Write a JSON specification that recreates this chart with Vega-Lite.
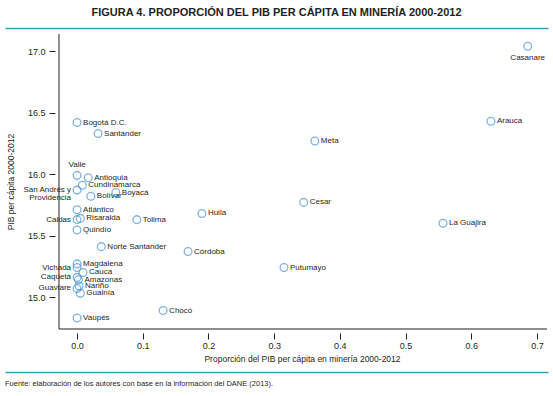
{
  "$schema": "https://vega.github.io/schema/vega-lite/v6.json",
  "background": "white",
  "padding": {"left": 5, "right": 5, "top": 7, "bottom": 2},
  "columns": 1,
  "spacing": 0,
  "config": {
    "view": {"stroke": null},
    "font": "Liberation Sans",
    "axis": {"labelFont": "Liberation Sans", "titleFont": "Liberation Sans", "labelColor": "#231f20", "titleColor": "#231f20", "tickColor": "#231f20", "titleFontWeight": "normal"}
  },
  "concat": [
    {
      "width": 543,
      "height": 4,
      "title": {"text": "FIGURA 4. PROPORCIÓN DEL PIB PER CÁPITA EN MINERÍA 2000-2012", "anchor": "middle", "frame": "group", "fontSize": 11, "font": "Liberation Sans", "fontWeight": "bold", "color": "#231f20", "offset": 9},
      "data": {"values": [{"v": 0}]},
      "mark": {"type": "point", "opacity": 0},
      "encoding": {
        "x": {"field": "v", "type": "quantitative", "axis": {"orient": "top", "domainColor": "#3a9dba", "domainWidth": 1.5, "ticks": false, "labels": false, "title": null, "grid": false}}
      }
    },
    {
      "width": 543,
      "height": 295,
      "data": {"values": [
        {"name": "Casanare", "label": "Casanare", "mineria": 0.686, "pib": 17.04},
        {"name": "Arauca", "label": "Arauca", "mineria": 0.630, "pib": 16.43},
        {"name": "Meta", "label": "Meta", "mineria": 0.362, "pib": 16.27},
        {"name": "Cesar", "label": "Cesar", "mineria": 0.345, "pib": 15.77},
        {"name": "La Guajira", "label": "La Guajira", "mineria": 0.557, "pib": 15.60},
        {"name": "Huila", "label": "Huila", "mineria": 0.190, "pib": 15.68},
        {"name": "Córdoba", "label": "Córdoba", "mineria": 0.169, "pib": 15.37},
        {"name": "Putumayo", "label": "Putumayo", "mineria": 0.315, "pib": 15.24},
        {"name": "Chocó", "label": "Chocó", "mineria": 0.131, "pib": 14.89},
        {"name": "Tolima", "label": "Tolima", "mineria": 0.091, "pib": 15.63},
        {"name": "Norte Santander", "label": "Norte Santander", "mineria": 0.037, "pib": 15.41},
        {"name": "Bogotá D.C.", "label": "Bogotá D.C.", "mineria": 0.0, "pib": 16.42},
        {"name": "Santander", "label": "Santander", "mineria": 0.032, "pib": 16.33},
        {"name": "Valle", "label": "Valle", "mineria": 0.0, "pib": 15.99},
        {"name": "Antioquia", "label": "Antioquia", "mineria": 0.017, "pib": 15.97},
        {"name": "Cundinamarca", "label": "Cundinamarca", "mineria": 0.008, "pib": 15.91},
        {"name": "San Andrés y Providencia", "label": "San Andrés y\nProvidencia", "mineria": 0.0, "pib": 15.87},
        {"name": "Boyacá", "label": "Boyacá", "mineria": 0.059, "pib": 15.85},
        {"name": "Bolívar", "label": "Bolívar", "mineria": 0.021, "pib": 15.82},
        {"name": "Atlántico", "label": "Atlántico", "mineria": 0.0, "pib": 15.71},
        {"name": "Caldas", "label": "Caldas", "mineria": 0.0, "pib": 15.63},
        {"name": "Risaralda", "label": "Risaralda", "mineria": 0.005, "pib": 15.64},
        {"name": "Quindío", "label": "Quindío", "mineria": 0.0, "pib": 15.545},
        {"name": "Magdalena", "label": "Magdalena", "mineria": 0.0, "pib": 15.27},
        {"name": "Vichada", "label": "Vichada", "mineria": 0.0, "pib": 15.24},
        {"name": "Cauca", "label": "Cauca", "mineria": 0.009, "pib": 15.20},
        {"name": "Caquetá", "label": "Caquetá", "mineria": 0.0, "pib": 15.16},
        {"name": "Amazonas", "label": "Amazonas", "mineria": 0.002, "pib": 15.14},
        {"name": "Nariño", "label": "Nariño", "mineria": 0.003, "pib": 15.09},
        {"name": "Guaviare", "label": "Guaviare", "mineria": 0.0, "pib": 15.07},
        {"name": "Guainía", "label": "Guainía", "mineria": 0.005, "pib": 15.03},
        {"name": "Vaupés", "label": "Vaupés", "mineria": 0.0, "pib": 14.83}
      ]},
      "encoding": {
        "x": {"field": "mineria", "type": "quantitative",
          "scale": {"domain": [-0.1097, 0.7169], "nice": false, "zero": false},
          "axis": {"values": [0, 0.1, 0.2, 0.3, 0.4, 0.5, 0.6, 0.7], "format": ".1f", "domain": false, "offset": 4, "tickSize": 6, "labelFontSize": 9, "labelPadding": 2, "grid": false, "title": "Proporción del PIB per cápita en minería 2000-2012", "titleFontSize": 8.5, "titlePadding": 4, "titleX": 297}},
        "y": {"field": "pib", "type": "quantitative",
          "scale": {"domain": [14.74, 17.14], "nice": false, "zero": false},
          "axis": {"values": [15, 15.5, 16, 16.5, 17], "format": ".1f", "domain": false, "offset": -50, "tickSize": 6, "labelFontSize": 9, "labelPadding": 4, "grid": false, "title": "PIB per cápita 2000-2012", "titleFontSize": 8.5, "titlePadding": 12}}
      },
      "layer": [
        {
          "data": {"values": [{"edge": -0.0275}]},
          "mark": {"type": "rule", "color": "#231f20", "strokeWidth": 1},
          "encoding": {"x": {"field": "edge", "type": "quantitative"}, "y": null}
        },
        {
          "data": {"values": [{"edge": 14.74, "from": -0.0275, "to": 0.7154}]},
          "mark": {"type": "rule", "color": "#231f20", "strokeWidth": 1},
          "encoding": {"y": {"field": "edge", "type": "quantitative"}, "x": {"field": "from", "type": "quantitative"}, "x2": {"field": "to"}}
        },
        {
          "mark": {"type": "point", "shape": "circle", "filled": false, "size": 60, "strokeWidth": 1.3, "color": "#4b93cf"}
        },
        {
          "transform": [{"filter": {"not": {"field": "name", "oneOf": ["Valle", "Casanare", "San Andrés y Providencia", "Caldas", "Vichada", "Caquetá", "Guaviare"]}}}],
          "mark": {"type": "text", "align": "left", "baseline": "middle", "dx": 6, "fontSize": 8, "color": "#231f20"},
          "encoding": {"text": {"field": "label"}}
        },
        {
          "transform": [{"filter": {"field": "name", "oneOf": ["San Andrés y Providencia", "Caldas", "Vichada", "Caquetá", "Guaviare"]}}],
          "mark": {"type": "text", "align": "right", "baseline": "middle", "dx": -6, "fontSize": 8, "lineBreak": "\n", "lineHeight": 8, "color": "#231f20"},
          "encoding": {"text": {"field": "label"}}
        },
        {
          "transform": [{"filter": {"field": "name", "equal": "Valle"}}],
          "mark": {"type": "text", "align": "center", "baseline": "middle", "dy": -10, "fontSize": 8, "color": "#231f20"},
          "encoding": {"text": {"field": "label"}}
        },
        {
          "transform": [{"filter": {"field": "name", "equal": "Casanare"}}],
          "mark": {"type": "text", "align": "center", "baseline": "middle", "dy": 12, "fontSize": 8, "color": "#231f20"},
          "encoding": {"text": {"field": "label"}}
        }
      ]
    },
    {
      "width": 543,
      "height": 9,
      "title": {"text": "Fuente: elaboración de los autores con base en la información del DANE (2013).", "orient": "bottom", "anchor": "start", "frame": "group", "fontSize": 7.5, "font": "Liberation Sans", "fontWeight": "normal", "color": "#231f20", "offset": 8},
      "data": {"values": [{"v": 0}]},
      "mark": {"type": "point", "opacity": 0},
      "encoding": {
        "x": {"field": "v", "type": "quantitative", "axis": {"orient": "bottom", "domainColor": "#3a9dba", "domainWidth": 1.5, "ticks": false, "labels": false, "title": null, "grid": false}}
      }
    }
  ]
}
